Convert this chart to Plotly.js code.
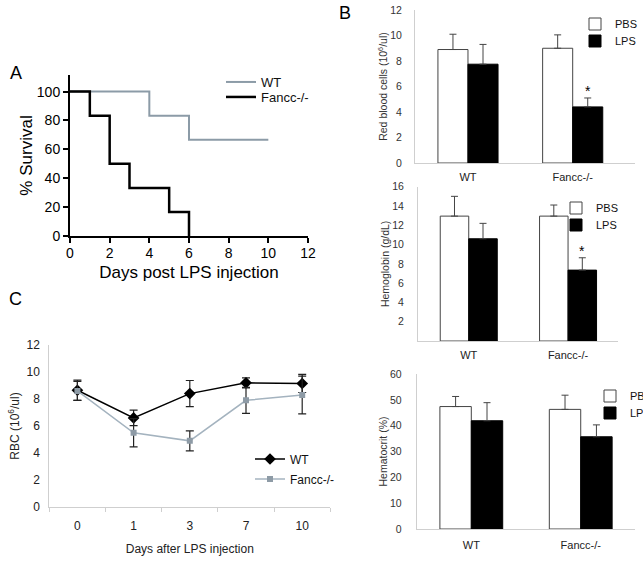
<!DOCTYPE html>
<html>
<head>
<meta charset="utf-8">
<script src="https://cdn.plot.ly/plotly-3.0.1.min.js"></script>
<style>html,body{margin:0;padding:0;background:#fff;}#chart{width:643px;height:564px;}</style>
</head>
<body>
<div id="chart"></div>
<script>
// ---------- DATA ----------
// Panel A: Kaplan-Meier survival
const survDaysWT = [0, 4, 6, 10];
const survWT = [100, 83.3, 66.7, 66.7];
const survDaysKO = [0, 1, 2, 3, 5, 6];
const survKO = [100, 83.3, 50, 33.3, 16.7, 0];

// Panel B: blood counts (PBS vs LPS)
const genotypes = ['WT', 'Fancc-/-'];
const rbcPBS = [8.9, 9.0];
const rbcPBSErr = [1.2, 1.05];
const rbcLPS = [7.75, 4.4];
const rbcLPSErr = [1.55, 0.7];

const hgbPBS = [12.95, 12.95];
const hgbPBSErr = [2.05, 1.15];
const hgbLPS = [10.6, 7.35];
const hgbLPSErr = [1.6, 1.28];

const hctPBS = [47.4, 46.3];
const hctPBSErr = [3.9, 5.5];
const hctLPS = [41.9, 35.7];
const hctLPSErr = [7.0, 4.6];

// Panel C: RBC time course
const daysC = ['0', '1', '3', '7', '10'];
const rbcTimeWT = [8.65, 6.6, 8.4, 9.2, 9.15];
const rbcTimeWTErr = [0.75, 0.57, 0.97, 0.37, 0.67];
const rbcTimeKO = [8.6, 5.5, 4.9, 7.9, 8.3];
const rbcTimeKOErr = [0.7, 1.05, 0.74, 0.96, 1.4];

// ---------- LAYOUT HELPERS ----------
const W = 643, H = 564;
const F = 'Arial, "Liberation Sans", sans-serif';
const fx = p => p / W;
const fy = p => 1 - p / H;
const zeros = n => new Array(n).fill(0);
const BW = 0.287; // bar width in category units

function leg(xpx, ypx, size) {
  return {x: fx(xpx), y: fy(ypx), xanchor: 'left', yanchor: 'middle',
    bgcolor: 'rgba(0,0,0,0)', borderwidth: 0, itemwidth: 30,
    font: {family: F, size: size, color: '#111'}};
}

const traces = [];

// Panel A
traces.push({x: survDaysWT, y: survWT, type: 'scatter', mode: 'lines', line: {shape: 'hv', color: '#8c9ba7', width: 2},
  name: 'WT', xaxis: 'x', yaxis: 'y', legend: 'legend'});
traces.push({x: survDaysKO, y: survKO, type: 'scatter', mode: 'lines', line: {shape: 'hv', color: '#000', width: 2.5},
  name: 'Fancc-/-', xaxis: 'x', yaxis: 'y', legend: 'legend2'});

// Panel B bars
function barPair(pbs, pbsErr, lps, lpsErr, xa, ya, legA, legB) {
  traces.push({x: genotypes, y: pbs, type: 'bar', width: BW, offset: -BW, name: 'PBS',
    marker: {color: '#fff', line: {color: '#444', width: 1}},
    error_y: {type: 'data', symmetric: false, array: pbsErr, arrayminus: zeros(pbs.length), color: '#444', thickness: 1, width: 3.5},
    xaxis: xa, yaxis: ya, legend: legA});
  traces.push({x: genotypes, y: lps, type: 'bar', width: BW, offset: 0, name: 'LPS',
    marker: {color: '#000', line: {color: '#000', width: 1}},
    error_y: {type: 'data', symmetric: false, array: lpsErr, arrayminus: zeros(lps.length), color: '#444', thickness: 1, width: 3.5},
    xaxis: xa, yaxis: ya, legend: legB});
}
barPair(rbcPBS, rbcPBSErr, rbcLPS, rbcLPSErr, 'x2', 'y2', 'legend3', 'legend4');
barPair(hgbPBS, hgbPBSErr, hgbLPS, hgbLPSErr, 'x3', 'y3', 'legend5', 'legend6');
barPair(hctPBS, hctPBSErr, hctLPS, hctLPSErr, 'x4', 'y4', 'legend7', 'legend8');

// Panel C
traces.push({x: daysC, y: rbcTimeWT, type: 'scatter', mode: 'lines+markers', name: 'WT',
  line: {color: '#000', width: 1.5}, marker: {symbol: 'diamond', size: 9, color: '#000'},
  error_y: {type: 'data', array: rbcTimeWTErr, color: '#222', thickness: 1.2, width: 4},
  xaxis: 'x5', yaxis: 'y5', legend: 'legend9'});
traces.push({x: daysC, y: rbcTimeKO, type: 'scatter', mode: 'lines+markers', name: 'Fancc-/-',
  line: {color: '#a4b3bf', width: 1.5}, marker: {symbol: 'square', size: 6, color: '#8e9ba6'},
  error_y: {type: 'data', array: rbcTimeKOErr, color: '#222', thickness: 1.2, width: 4},
  xaxis: 'x5', yaxis: 'y5', legend: 'legend10'});

// ---------- AXES ----------
const grayLine = '#cfcfcf';
const bTick = {family: F, size: 10.5, color: '#333'};
function catAxis(l, r, r0, r1, anchor, standoff) {
  return {domain: [fx(l), fx(r)], anchor: anchor, type: 'category', categoryarray: genotypes,
    range: [r0, r1], showline: true, linecolor: grayLine, linewidth: 1, ticks: '', showgrid: false, zeroline: false,
    tickfont: {family: F, size: 11, color: '#222'}, ticklabelstandoff: standoff, fixedrange: true};
}
function valAxis(b, t, rng, dtick, anchor, title, standoff, tickvals) {
  const a = {domain: [fy(b), fy(t)], anchor: anchor, range: rng, dtick: dtick, showline: true, linecolor: grayLine,
    linewidth: 1, ticks: '', showgrid: false, zeroline: false, tickfont: bTick, ticklabelstandoff: standoff,
    title: {text: title, font: {family: F, size: 10.5, color: '#333'}, standoff: 0}, fixedrange: true};
  if (tickvals) { a.tickmode = 'array'; a.tickvals = tickvals; }
  return a;
}

const layout = {
  width: W, height: H, margin: {l: 0, r: 0, t: 0, b: 0, autoexpand: false},
  paper_bgcolor: '#fff', plot_bgcolor: 'rgba(0,0,0,0)', showlegend: true,
  font: {family: F},
  xaxis: {domain: [fx(70), fx(308)], anchor: 'y', range: [0, 12], dtick: 2, showline: true, linecolor: '#000', linewidth: 2,
    ticks: 'outside', ticklen: 5, tickwidth: 2, tickcolor: '#000', showgrid: false, zeroline: false,
    tickfont: {family: F, size: 14, color: '#000'}, ticklabelstandoff: -2,
    title: {text: 'Days post LPS injection', font: {family: F, size: 17, color: '#000'}, standoff: 6}},
  yaxis: {domain: [fy(236), fy(75)], anchor: 'x', range: [0, 111.5], tickmode: 'array', tickvals: [0, 20, 40, 60, 80, 100],
    showline: true, linecolor: '#000', linewidth: 2, ticks: 'outside', ticklen: 5, tickwidth: 2, tickcolor: '#000',
    showgrid: false, zeroline: false, tickfont: {family: F, size: 14, color: '#000'}, ticklabelstandoff: 0,
    title: {text: '% Survival', font: {family: F, size: 17, color: '#000'}, standoff: 0}},

  xaxis2: catAxis(415, 635, -0.506, 1.595, 'y2', 4),
  yaxis2: valAxis(163, 10, [0, 12], 2, 'x2', 'Red blood cells (10<sup>6</sup>/ul)', 10),
  xaxis3: catAxis(418, 618, -0.511, 1.503, 'y3', 4),
  yaxis3: valAxis(341, 186.7, [0, 16], 2, 'x3', 'Hemoglobin (g/dL)', 11, [2, 4, 6, 8, 10, 12, 14, 16]),
  xaxis4: catAxis(416.7, 635, -0.499, 1.496, 'y4', 6),
  yaxis4: valAxis(529, 374, [0, 60], 10, 'x4', 'Hematocrit (%)', 12),

  xaxis5: {domain: [fx(49.3), fx(330.3)], anchor: 'y5', type: 'category', categoryarray: daysC, range: [-0.5, 4.5],
    showline: true, linecolor: grayLine, linewidth: 1, ticks: 'outside', tickson: 'boundaries', ticklen: 4, tickcolor: grayLine,
    showgrid: false, zeroline: false, tickfont: {family: F, size: 12, color: '#222'}, ticklabelstandoff: 8,
    title: {text: 'Days after LPS injection', font: {family: F, size: 12, color: '#222'}, standoff: 12}},
  yaxis5: {domain: [fy(507), fy(345)], anchor: 'x5', range: [0, 12], dtick: 2, showline: true, linecolor: grayLine, linewidth: 1,
    ticks: '', showgrid: false, zeroline: false, tickfont: {family: F, size: 12, color: '#222'}, ticklabelstandoff: 6,
    title: {text: 'RBC (10<sup>6</sup>/ul)', font: {family: F, size: 12, color: '#222'}, standoff: 4}},

  legend: leg(221, 82, 13),
  legend2: leg(221, 97, 13),
  legend3: leg(575, 24, 11),
  legend4: leg(575, 41, 11),
  legend5: leg(556, 208, 11),
  legend6: leg(556, 225, 11),
  legend7: leg(590, 396, 11),
  legend8: leg(590, 413, 11),
  legend9: leg(250, 459, 12),
  legend10: leg(250, 479, 12),

  annotations: [
    {text: 'A', xref: 'paper', yref: 'paper', x: fx(16), y: fy(73), xanchor: 'center', yanchor: 'middle', showarrow: false, font: {family: F, size: 18, color: '#000'}},
    {text: 'B', xref: 'paper', yref: 'paper', x: fx(345), y: fy(13), xanchor: 'center', yanchor: 'middle', showarrow: false, font: {family: F, size: 18, color: '#000'}},
    {text: 'C', xref: 'paper', yref: 'paper', x: fx(15), y: fy(299), xanchor: 'center', yanchor: 'middle', showarrow: false, font: {family: F, size: 18, color: '#000'}},
    {text: '*', xref: 'x2', yref: 'y2', x: 1 + BW / 2, y: rbcLPS[1] + rbcLPSErr[1], yanchor: 'bottom', yshift: -3, showarrow: false,
      font: {family: F, size: 14, color: '#000'}},
    {text: '*', xref: 'x3', yref: 'y3', x: 1 + BW / 2, y: hgbLPS[1] + hgbLPSErr[1], yanchor: 'bottom', yshift: -3, showarrow: false,
      font: {family: F, size: 14, color: '#000'}}
  ]
};

Plotly.newPlot('chart', traces, layout, {staticPlot: true, displayModeBar: false});
</script>
</body>
</html>
